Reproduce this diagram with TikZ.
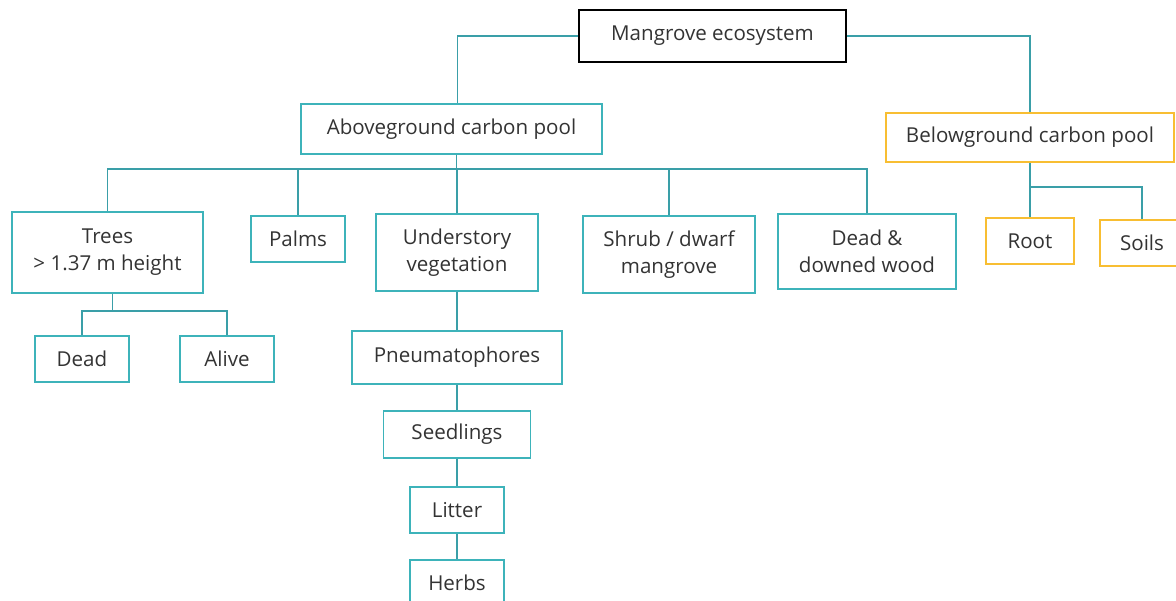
\documentclass[tikz,border=0pt]{standalone}
\usepackage{fontspec}
\setmainfont{Open Sans}
\usetikzlibrary{positioning}
\definecolor{tealbox}{HTML}{3DB3BA}
\definecolor{tealline}{HTML}{3A9FA8}
\definecolor{goldbox}{HTML}{F8BE32}
\tikzset{box/.style={draw=tealbox,line width=1.1pt,align=center,inner sep=2pt,
    font=\fontsize{11.7}{15.4}\selectfont,text=black!80},
  goldpool/.style={box,draw=goldbox},
  toppool/.style={box,draw=black},
  wh/.style 2 args={minimum width=#1*0.02cm,minimum height=#2*0.02cm},
  link/.style={draw=tealline,line width=1.1pt}}

\begin{document}
\begin{tikzpicture}[x=0.02cm,y=-0.02cm]
\useasboundingbox (0,0) rectangle (1176,601);
% pools
\node[toppool,wh={267}{52}] (eco) at (712.5,36) {Mangrove ecosystem};
\node[box,wh={301}{50}] (above) at (451.5,129) {Aboveground carbon pool};
\node[goldpool,wh={288}{49}] (below) at (1030,137.5) {Belowground carbon pool};
% aboveground parts
\node[box,wh={191}{81}] (trees) at (107.5,252.5) {Trees\\> 1.37 m height};
\node[box,wh={94}{46}] (palms) at (298,239) {Palms};
\node[box,wh={162}{77}] (under) at (457,252.5) {Understory\\vegetation};
\node[box,wh={172}{77}] (shrub) at (669,254.5) {Shrub / dwarf\\mangrove};
\node[box,wh={178}{75}] (wood) at (867,251.5) {Dead \&\\downed wood};
\node[box,wh={94}{46}] (dead) at (82,359) {Dead};
\node[box,wh={94}{46}] (alive) at (227,359) {Alive};
\node[box,wh={210}{53}] (pneu) at (457,357.5) {Pneumatophores};
\node[box,wh={147}{47}] (seed) at (457,434.5) {Seedlings};
\node[box,wh={94}{46}] (litter) at (457,510) {Litter};
\node[box,wh={94}{46}] (herbs) at (457,583) {Herbs};
% belowground parts
\node[goldpool,wh={88}{46}] (root) at (1030,241) {Root};
\node[goldpool,wh={84}{46}] (soils) at (1142,243) {Soils};

% connectors
\coordinate (bus) at (456,169);
\coordinate (tbus) at (113,311);
\coordinate (bbus) at (1030,187);
\draw[link] (eco.west) -| ([xshift=6*0.02cm]above.north);
\draw[link] (eco.east) -| (below.north);
\draw[link] ([xshift=5*0.02cm]above.south) |- (bus);
\draw[link] (trees.north) |- (bus) -| (wood.north);
\foreach \n in {palms,under,shrub}
  \draw[link] (\n.north) -- (\n.north |- bus);
\draw[link] ([xshift=5*0.02cm]trees.south) |- (tbus);
\draw[link] (dead.north) |- (tbus) -| (alive.north);
\draw[link] (under) -- (pneu) -- (seed) -- (litter) -- (herbs);
\draw[link] (below.south) -- (root.north);
\draw[link] (bbus) -| (soils.north);
\end{tikzpicture}
\end{document}
